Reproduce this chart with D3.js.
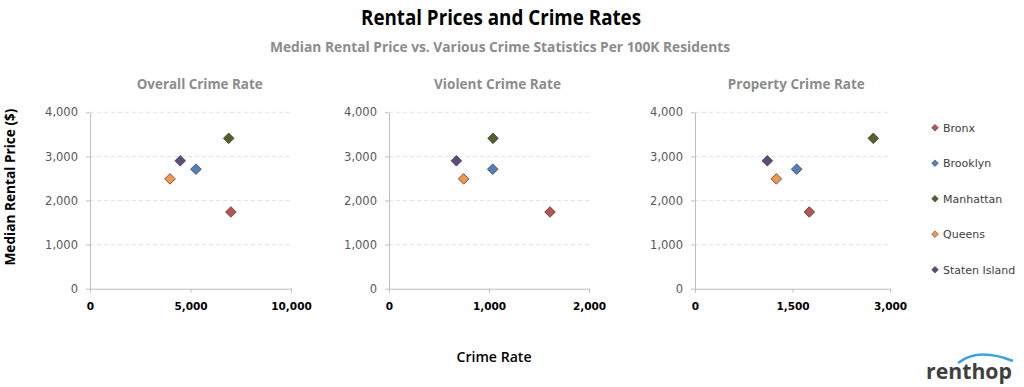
<!DOCTYPE html>
<html>
<head>
<meta charset="utf-8">
<script src="https://cdn.jsdelivr.net/npm/d3@7"></script>
<style>
  body { margin: 0; background: #fff; }
  svg { display: block; }
</style>
</head>
<body>
<svg id="chart" width="1024" height="387"></svg>
<script>
// values
const boroughs = ["Bronx", "Brooklyn", "Manhattan", "Queens", "Staten Island"];
const colors = ["#c0504d", "#4f81bd", "#4f6228", "#f79646", "#604a7b"];
const medianRent = [1740, 2710, 3410, 2490, 2900];
const overallRate = [7010, 5270, 6900, 3980, 4490];
const violentRate = [1610, 1037, 1040, 747, 674];
const propertyRate = [1759, 1564, 2743, 1251, 1113];
const yTicks = [0, 1000, 2000, 3000, 4000];

const panels = [
  { title: "Overall Crime Rate", values: overallRate, max: 10000, ticks: [0, 5000, 10000], x0: 90, x1: 291, tx: 199.7, tw: 126 },
  { title: "Violent Crime Rate", values: violentRate, max: 2000, ticks: [0, 1000, 2000], x0: 389, x1: 589, tx: 497.5, tw: 127 },
  { title: "Property Crime Rate", values: propertyRate, max: 3000, ticks: [0, 1500, 3000], x0: 695, x1: 890, tx: 796.3, tw: 137 },
];

const svg = d3.select("#chart");
const fmt = d3.format(",");
const calib = "'Open Sans', sans-serif";

// condensed text helper (stand-in for a narrow font)
function narrow(sel, w) {
  return sel.attr("textLength", w).attr("lengthAdjust", "spacingAndGlyphs");
}

narrow(svg.append("text")
  .attr("x", 501).attr("y", 25)
  .attr("text-anchor", "middle")
  .attr("font-family", calib)
  .attr("font-weight", "700")
  .attr("font-size", "21px")
  .attr("fill", "#000")
  .text("Rental Prices and Crime Rates"), 280);

narrow(svg.append("text")
  .attr("x", 500).attr("y", 52)
  .attr("text-anchor", "middle")
  .attr("font-family", calib)
  .attr("font-weight", "700")
  .attr("font-size", "15px")
  .attr("fill", "#8c8c8c")
  .text("Median Rental Price vs. Various Crime Statistics Per 100K Residents"), 460);

const y = d3.scaleLinear().domain([0, 4000]).range([288.7, 112.3]);
const diamond = d3.symbol().type(d3.symbolDiamond2);

panels.forEach((p) => {
  const x = d3.scaleLinear().domain([0, p.max]).range([p.x0, p.x1]);
  const g = svg.append("g");

  // dashed gridlines
  g.selectAll(".grid")
    .data(yTicks.slice(1))
    .join("line")
    .attr("x1", p.x0).attr("x2", p.x1)
    .attr("y1", (d) => y(d)).attr("y2", (d) => y(d))
    .attr("stroke", "#e3e3e3")
    .attr("stroke-dasharray", "4,3");

  const ya = g.append("g")
    .attr("transform", `translate(${p.x0},0)`)
    .call(d3.axisLeft(y).tickValues(yTicks).tickFormat(fmt).tickSize(4).tickSizeOuter(0).tickPadding(8));
  ya.select(".domain").attr("stroke", "#bfbfbf");
  ya.selectAll(".tick line").attr("stroke", "#bfbfbf");
  ya.selectAll(".tick text")
    .attr("font-family", "'DejaVu Sans', sans-serif")
    .attr("font-size", "11.5px")
    .attr("fill", "#595959");

  const xa = g.append("g")
    .attr("transform", `translate(0,${y(0)})`)
    .call(d3.axisBottom(x).tickValues(p.ticks).tickFormat(fmt).tickSize(4).tickSizeOuter(0).tickPadding(10));
  xa.select(".domain").attr("stroke", "#bfbfbf");
  xa.selectAll(".tick line").attr("stroke", "#bfbfbf");
  xa.selectAll(".tick text")
    .attr("font-family", "'DejaVu Sans', sans-serif")
    .attr("font-weight", "700")
    .attr("font-size", "10.5px")
    .attr("fill", "#000");

  narrow(g.append("text")
    .attr("x", p.tx).attr("y", 89)
    .attr("text-anchor", "middle")
    .attr("font-family", calib)
    .attr("font-weight", "700")
    .attr("font-size", "15px")
    .attr("fill", "#8c8c8c")
    .text(p.title), p.tw);

  g.selectAll(".pt")
    .data(boroughs)
    .join("path")
    .attr("d", diamond.size(72))
    .attr("transform", (d, i) => `translate(${x(p.values[i])},${y(medianRent[i])})`)
    .attr("fill", (d, i) => colors[i])
    .attr("stroke", "#404040")
    .attr("stroke-width", 0.8);
});

// legend
const leg = svg.append("g");
boroughs.forEach((b, i) => {
  const ly = 127.7 + i * 35.5;
  leg.append("path")
    .attr("d", diamond.size(28))
    .attr("transform", `translate(935,${ly})`)
    .attr("fill", colors[i])
    .attr("stroke", "#404040")
    .attr("stroke-width", 0.6);
  leg.append("text")
    .attr("x", 943).attr("y", ly + 4)
    .attr("font-family", "'DejaVu Sans', sans-serif")
    .attr("font-size", "11px")
    .attr("fill", "#404040")
    .text(b);
});

// axis titles
narrow(svg.append("text")
  .attr("transform", "translate(15,187) rotate(-90)")
  .attr("text-anchor", "middle")
  .attr("font-family", calib)
  .attr("font-weight", "700")
  .attr("font-size", "15px")
  .attr("fill", "#000")
  .text("Median Rental Price ($)"), 157);

narrow(svg.append("text")
  .attr("x", 494).attr("y", 362)
  .attr("text-anchor", "middle")
  .attr("font-family", calib)
  .attr("font-weight", "600")
  .attr("font-size", "15px")
  .attr("fill", "#000")
  .text("Crime Rate"), 75);

// renthop logo
svg.append("path")
  .attr("d", "M958,363 Q978,347 1013,361")
  .attr("fill", "none")
  .attr("stroke", "#3aa0e8")
  .attr("stroke-width", 2.5);
narrow(svg.append("text")
  .attr("x", 926).attr("y", 379)
  .attr("font-family", calib)
  .attr("font-weight", "700")
  .attr("font-size", "21px")
  .attr("fill", "#3f3f3f")
  .text("renthop"), 86);
</script>
</body>
</html>
